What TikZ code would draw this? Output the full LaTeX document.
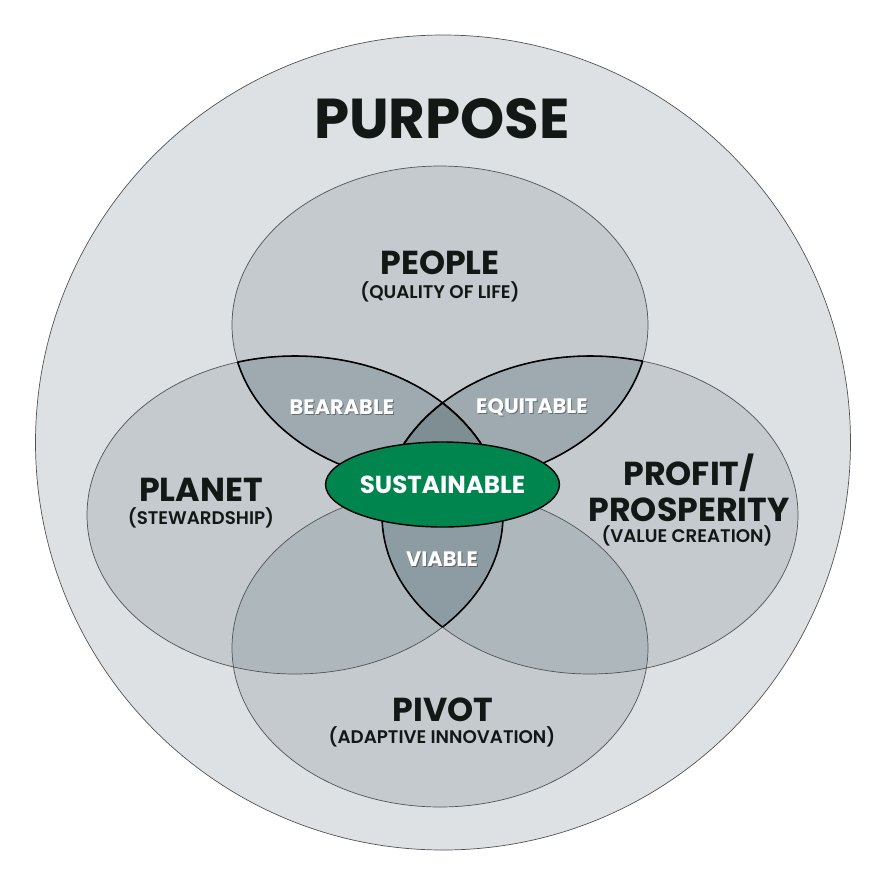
\documentclass[tikz,border=0pt]{standalone}
\usepackage{fontspec}
\setmainfont{Poppins}[BoldFont={* Bold}]
\newfontfamily\medfont{Poppins SemiBold}
\usepackage{xcolor}
\usepackage{tikz}
\usetikzlibrary{shapes.geometric}
\usetikzlibrary{positioning}

\definecolor{ringgray}{HTML}{DDE1E4}
\definecolor{setgray}{HTML}{C4CACD}
\definecolor{pivotlap}{HTML}{AEB8BC}
\definecolor{lapgray}{HTML}{9EAAB0}
\definecolor{viablegray}{HTML}{8D9CA2}
\definecolor{coregray}{HTML}{7F8E93}
\definecolor{susgreen}{HTML}{00854F}
\definecolor{inkblack}{HTML}{111816}
\definecolor{rimgray}{HTML}{505457}

\newcommand{\peoplepath}{(440,325) ellipse [x radius=208, y radius=159]}
\newcommand{\planetpath}{(295,515) ellipse [x radius=208, y radius=159]}
\newcommand{\profitpath}{(590,515) ellipse [x radius=208, y radius=159]}
\newcommand{\pivotpath}{(440,648) ellipse [x radius=208, y radius=159]}

\tikzset{
    thinrim/.style = {draw=rimgray, line width=0.4pt},
    lensrim/.style = {draw=black, line width=0.9pt},
    title/.style = {font=\bfseries\fontsize{32}{32}\selectfont, text=inkblack, inner sep=0pt},
    head/.style = {font=\bfseries\fontsize{18.9}{20.5}\selectfont, text=inkblack, inner sep=0pt, align=center},
    subtitle/.style = {font=\medfont\fontsize{10.4}{11}\selectfont, text=inkblack, inner sep=0pt},
    lenslabel/.style = {font=\bfseries\fontsize{11.9}{12}\selectfont, text=white, inner sep=0pt},
    textshadow/.style = {lenslabel, text=black, text opacity=0.35},
    core/.style = {ellipse, draw=black, line width=0.8pt, fill=susgreen, text=white,
                   minimum width=4.62cm, minimum height=1.7cm, inner sep=0pt,
                   font=\bfseries\fontsize{14}{14}\selectfont}
}

\begin{document}
\begin{tikzpicture}[x=0.02cm, y=-0.02cm]
\useasboundingbox (0,0) rectangle (887,887);

% purpose ring
\draw[thinrim, fill=ringgray] (443,442.5) circle [radius=407.5];

% the four sets
\fill[setgray] \peoplepath;
\fill[setgray] \planetpath;
\fill[setgray] \profitpath;
\fill[setgray] \pivotpath;

% overlaps
\begin{scope}
    \clip \pivotpath;
    \fill[pivotlap] \planetpath;
    \fill[pivotlap] \profitpath;
\end{scope}
\begin{scope}
    \clip \peoplepath;
    \fill[lapgray] \planetpath;
    \fill[lapgray] \profitpath;
\end{scope}
\begin{scope}
    \clip \planetpath;
    \fill[viablegray] \profitpath;
\end{scope}
\begin{scope}
    \clip \peoplepath;
    \clip \planetpath;
    \fill[coregray] \profitpath;
\end{scope}

\draw[thinrim] \peoplepath;
\draw[thinrim] \planetpath;
\draw[thinrim] \profitpath;
\draw[thinrim] \pivotpath;

% lens borders
\begin{scope}
    \clip \planetpath;
    \draw[lensrim] \peoplepath;
    \draw[lensrim] \profitpath;
\end{scope}
\begin{scope}
    \clip \profitpath;
    \draw[lensrim] \peoplepath;
    \draw[lensrim] \planetpath;
\end{scope}
\begin{scope}
    \clip \peoplepath;
    \draw[lensrim] \planetpath;
    \draw[lensrim] \profitpath;
\end{scope}

\node[title] (purpose) at (442,119) {PURPOSE};

\node[head] (people) at (440,263) {PEOPLE};
\node[subtitle] (peoplesub) at (440,292) {(QUALITY OF LIFE)};
\node[head] (planet) at (201,490) {PLANET};
\node[subtitle] (planetsub) at (201,518) {(STEWARDSHIP)};
\node[head] (profit) at (689,488) {PROFIT/\\PROSPERITY};
\node[subtitle] (profitsub) at (687,536) {(VALUE CREATION)};
\node[head] (pivot) at (443,710) {PIVOT};
\node[subtitle] (pivotsub) at (442,737) {(ADAPTIVE INNOVATION)};

\node[textshadow] (bearableshadow) at (343,408.5) {BEARABLE};
\node[lenslabel] (bearable) at (342,407) {BEARABLE};
\node[textshadow] (equitableshadow) at (533,408.5) {EQUITABLE};
\node[lenslabel] (equitable) at (532,407) {EQUITABLE};
\node[textshadow] (viableshadow) at (443,560.5) {VIABLE};
\node[lenslabel] (viable) at (442,559) {VIABLE};

\node[core] (sustainable) at (442.5,484.5) {SUSTAINABLE};
\end{tikzpicture}
\end{document}
